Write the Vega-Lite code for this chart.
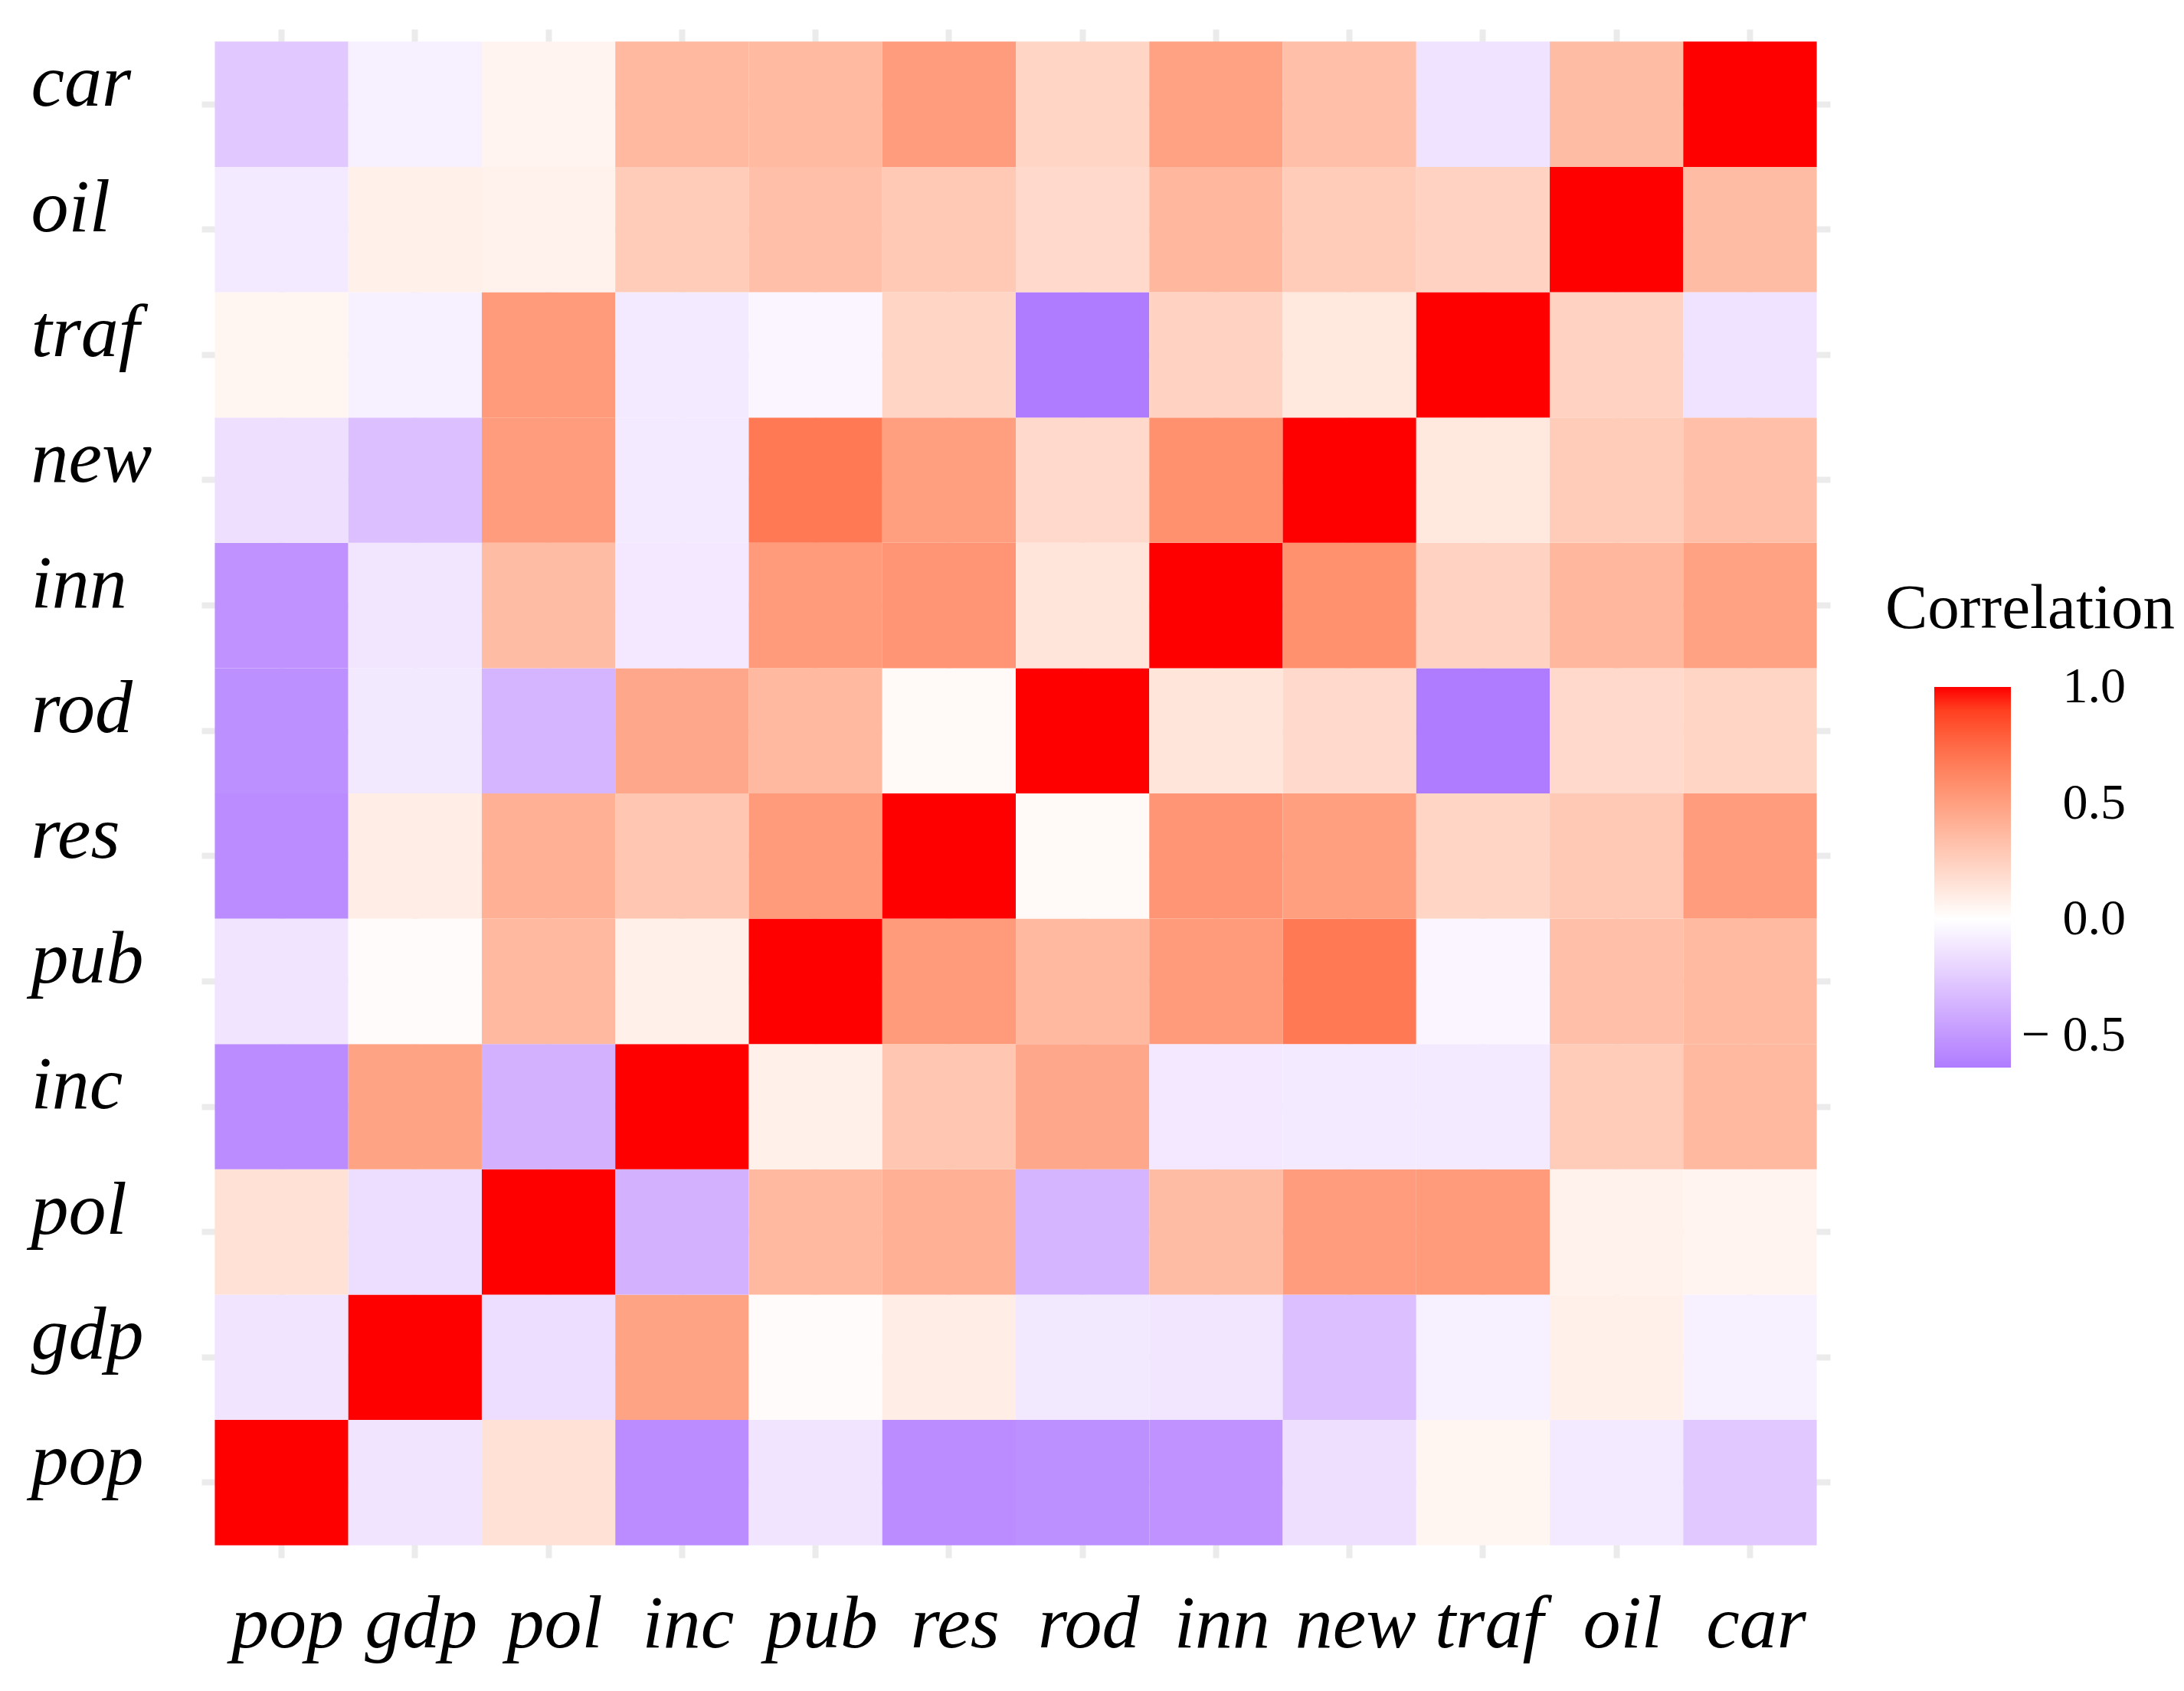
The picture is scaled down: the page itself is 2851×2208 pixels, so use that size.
{
  "$schema": "https://vega.github.io/schema/vega-lite/v6.json",
  "width": 2126,
  "height": 1996,
  "autosize": {"type": "none"},
  "padding": {"left": 263, "top": 38, "right": 462, "bottom": 174},
  "background": "white",
  "config": {
    "view": {"stroke": null},
    "axis": {
      "labelFont": "Liberation Serif",
      "labelFontStyle": "italic",
      "labelFontSize": 98,
      "labelColor": "black",
      "ticks": false,
      "tickSize": 0,
      "domain": false,
      "grid": true,
      "gridColor": "#EBEBEB",
      "gridWidth": 8,
      "title": null,
      "labelFlush": false,
      "labelOverlap": false,
      "labelBound": false,
      "labelLimit": 0,
      "zindex": 0
    }
  },
  "data": {
    "values": [
      {"x":"pop","y":"pop","r":1},{"x":"gdp","y":"pop","r":-0.13},{"x":"pol","y":"pop","r":0.16},{"x":"inc","y":"pop","r":-0.56},{"x":"pub","y":"pop","r":-0.13},{"x":"res","y":"pop","r":-0.56},{"x":"rod","y":"pop","r":-0.54},{"x":"inn","y":"pop","r":-0.53},{"x":"new","y":"pop","r":-0.155},{"x":"traf","y":"pop","r":0.05},{"x":"oil","y":"pop","r":-0.1},{"x":"car","y":"pop","r":-0.26},
      {"x":"pop","y":"gdp","r":-0.13},{"x":"gdp","y":"gdp","r":1},{"x":"pol","y":"gdp","r":-0.16},{"x":"inc","y":"gdp","r":0.48},{"x":"pub","y":"gdp","r":0.02},{"x":"res","y":"gdp","r":0.095},{"x":"rod","y":"gdp","r":-0.105},{"x":"inn","y":"gdp","r":-0.12},{"x":"new","y":"gdp","r":-0.31},{"x":"traf","y":"gdp","r":-0.07},{"x":"oil","y":"gdp","r":0.08},{"x":"car","y":"gdp","r":-0.07},
      {"x":"pop","y":"pol","r":0.16},{"x":"gdp","y":"pol","r":-0.16},{"x":"pol","y":"pol","r":1},{"x":"inc","y":"pol","r":-0.38},{"x":"pub","y":"pol","r":0.37},{"x":"res","y":"pol","r":0.415},{"x":"rod","y":"pol","r":-0.36},{"x":"inn","y":"pol","r":0.355},{"x":"new","y":"pol","r":0.515},{"x":"traf","y":"pol","r":0.52},{"x":"oil","y":"pol","r":0.07},{"x":"car","y":"pol","r":0.06},
      {"x":"pop","y":"inc","r":-0.56},{"x":"gdp","y":"inc","r":0.48},{"x":"pol","y":"inc","r":-0.38},{"x":"inc","y":"inc","r":1},{"x":"pub","y":"inc","r":0.08},{"x":"res","y":"inc","r":0.3},{"x":"rod","y":"inc","r":0.46},{"x":"inn","y":"inc","r":-0.11},{"x":"new","y":"inc","r":-0.1},{"x":"traf","y":"inc","r":-0.1},{"x":"oil","y":"inc","r":0.27},{"x":"car","y":"inc","r":0.37},
      {"x":"pop","y":"pub","r":-0.13},{"x":"gdp","y":"pub","r":0.02},{"x":"pol","y":"pub","r":0.37},{"x":"inc","y":"pub","r":0.08},{"x":"pub","y":"pub","r":1},{"x":"res","y":"pub","r":0.525},{"x":"rod","y":"pub","r":0.37},{"x":"inn","y":"pub","r":0.525},{"x":"new","y":"pub","r":0.68},{"x":"traf","y":"pub","r":-0.05},{"x":"oil","y":"pub","r":0.34},{"x":"car","y":"pub","r":0.365},
      {"x":"pop","y":"res","r":-0.56},{"x":"gdp","y":"res","r":0.095},{"x":"pol","y":"res","r":0.415},{"x":"inc","y":"res","r":0.3},{"x":"pub","y":"res","r":0.525},{"x":"res","y":"res","r":1},{"x":"rod","y":"res","r":0.03},{"x":"inn","y":"res","r":0.55},{"x":"new","y":"res","r":0.5},{"x":"traf","y":"res","r":0.22},{"x":"oil","y":"res","r":0.285},{"x":"car","y":"res","r":0.515},
      {"x":"pop","y":"rod","r":-0.54},{"x":"gdp","y":"rod","r":-0.105},{"x":"pol","y":"rod","r":-0.36},{"x":"inc","y":"rod","r":0.46},{"x":"pub","y":"rod","r":0.37},{"x":"res","y":"rod","r":0.03},{"x":"rod","y":"rod","r":1},{"x":"inn","y":"rod","r":0.14},{"x":"new","y":"rod","r":0.2},{"x":"traf","y":"rod","r":-0.64},{"x":"oil","y":"rod","r":0.195},{"x":"car","y":"rod","r":0.22},
      {"x":"pop","y":"inn","r":-0.53},{"x":"gdp","y":"inn","r":-0.12},{"x":"pol","y":"inn","r":0.355},{"x":"inc","y":"inn","r":-0.11},{"x":"pub","y":"inn","r":0.525},{"x":"res","y":"inn","r":0.55},{"x":"rod","y":"inn","r":0.14},{"x":"inn","y":"inn","r":1},{"x":"new","y":"inn","r":0.57},{"x":"traf","y":"inn","r":0.24},{"x":"oil","y":"inn","r":0.38},{"x":"car","y":"inn","r":0.49},
      {"x":"pop","y":"new","r":-0.155},{"x":"gdp","y":"new","r":-0.31},{"x":"pol","y":"new","r":0.515},{"x":"inc","y":"new","r":-0.1},{"x":"pub","y":"new","r":0.68},{"x":"res","y":"new","r":0.5},{"x":"rod","y":"new","r":0.2},{"x":"inn","y":"new","r":0.57},{"x":"new","y":"new","r":1},{"x":"traf","y":"new","r":0.125},{"x":"oil","y":"new","r":0.27},{"x":"car","y":"new","r":0.34},
      {"x":"pop","y":"traf","r":0.05},{"x":"gdp","y":"traf","r":-0.07},{"x":"pol","y":"traf","r":0.52},{"x":"inc","y":"traf","r":-0.1},{"x":"pub","y":"traf","r":-0.05},{"x":"res","y":"traf","r":0.22},{"x":"rod","y":"traf","r":-0.64},{"x":"inn","y":"traf","r":0.24},{"x":"new","y":"traf","r":0.125},{"x":"traf","y":"traf","r":1},{"x":"oil","y":"traf","r":0.24},{"x":"car","y":"traf","r":-0.135},
      {"x":"pop","y":"oil","r":-0.1},{"x":"gdp","y":"oil","r":0.08},{"x":"pol","y":"oil","r":0.07},{"x":"inc","y":"oil","r":0.27},{"x":"pub","y":"oil","r":0.34},{"x":"res","y":"oil","r":0.285},{"x":"rod","y":"oil","r":0.195},{"x":"inn","y":"oil","r":0.38},{"x":"new","y":"oil","r":0.27},{"x":"traf","y":"oil","r":0.24},{"x":"oil","y":"oil","r":1},{"x":"car","y":"oil","r":0.355},
      {"x":"pop","y":"car","r":-0.26},{"x":"gdp","y":"car","r":-0.07},{"x":"pol","y":"car","r":0.06},{"x":"inc","y":"car","r":0.37},{"x":"pub","y":"car","r":0.365},{"x":"res","y":"car","r":0.515},{"x":"rod","y":"car","r":0.22},{"x":"inn","y":"car","r":0.49},{"x":"new","y":"car","r":0.34},{"x":"traf","y":"car","r":-0.135},{"x":"oil","y":"car","r":0.355},{"x":"car","y":"car","r":1}
    ]
  },
  "mark": {"type": "rect", "strokeWidth": 0},
  "encoding": {
    "x": {
      "field": "x",
      "type": "nominal",
      "sort": ["pop","gdp","pol","inc","pub","res","rod","inn","new","traf","oil","car"],
      "scale": {"type": "band", "paddingInner": 0, "paddingOuter": 0.1},
      "axis": {
        "orient": "bottom",
        "labelAngle": 0,
        "labelAlign": "center",
        "labelBaseline": "alphabetic",
        "labelPadding": 116,
        "labelOffset": 8,
        "bandPosition": 0.5,
        "zindex": 0
      }
    },
    "y": {
      "field": "y",
      "type": "nominal",
      "sort": ["car","oil","traf","new","inn","rod","res","pub","inc","pol","gdp","pop"],
      "scale": {"type": "band", "paddingInner": 0, "paddingOuter": 0.1},
      "axis": {
        "orient": "left",
        "labelAlign": "left",
        "labelBaseline": "alphabetic",
        "labelPadding": 223,
        "labelOffset": 2,
        "bandPosition": 0.5,
        "zindex": 0
      }
    },
    "color": {
      "field": "r",
      "type": "quantitative",
      "scale": {
        "domain": [-0.64, 0, 1],
        "range": ["#AF7CFF", "#FFFFFF", "#FF0000"],
        "interpolate": "lab",
        "nice": false,
        "zero": false
      },
      "legend": {
        "title": "Correlation",
        "orient": "none",
        "legendX": 2198,
        "legendY": 716,
        "direction": "vertical",
        "gradientLength": 497,
        "gradientThickness": 100,
        "gradientStrokeWidth": 0,
        "padding": 0,
        "titleFont": "Liberation Serif",
        "titleFontSize": 83,
        "titleFontWeight": "normal",
        "titleColor": "black",
        "titlePadding": 60,
        "titleAnchor": "middle",
        "titleLimit": 0,
        "labelFont": "Liberation Serif",
        "labelFontSize": 66,
        "labelColor": "black",
        "labelOffset": 150,
        "labelAlign": "right",
        "labelBaseline": "middle",
        "labelLimit": 0,
        "labelOverlap": false,
        "values": [-0.5, 0, 0.5, 1],
        "labelExpr": "datum.value < 0 ? '\u2212 ' + format(-datum.value, '.1f') : format(datum.value, '.1f')",
        "encode": {
          "labels": {"update": {"align": {"value": "right"}, "baseline": {"value": "middle"}}}
        }
      }
    }
  }
}
